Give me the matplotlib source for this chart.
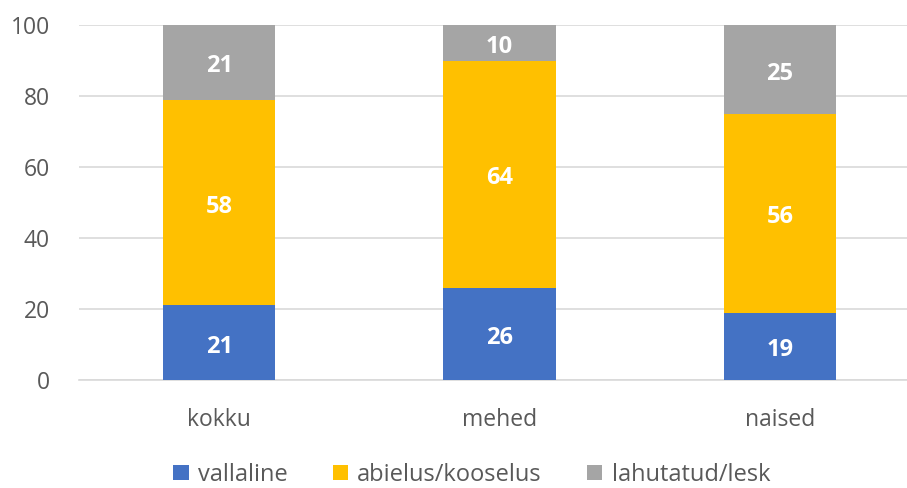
import matplotlib.pyplot as plt
import numpy as np

plt.rcParams['font.family'] = ['Open Sans', 'DejaVu Sans']

categories = ['kokku', 'mehed', 'naised']
series_names = ['vallaline', 'abielus/kooselus', 'lahutatud/lesk']
vallaline = [21, 26, 19]
abielus = [58, 64, 56]
lahutatud = [21, 10, 25]
colors = ['#4472C4', '#FFC000', '#A5A5A5']

fig = plt.figure(figsize=(9.07, 4.88), dpi=100)
ax = fig.add_axes([79 / 907, 108 / 488, 841 / 907, 355 / 488])

x = np.arange(len(categories))
bottom = np.zeros(len(categories))
for name, vals, col in zip(series_names, [vallaline, abielus, lahutatud], colors):
    bars = ax.bar(x, vals, 0.4, bottom=bottom, color=col, label=name, zorder=3)
    for b, v in zip(bars, vals):
        ax.annotate(str(v), (b.get_x() + b.get_width() / 2, b.get_y() + b.get_height() / 2),
                    xytext=(0, -3), textcoords='offset points',
                    ha='center', va='center', color='white', fontsize=17, fontweight='bold', zorder=4)
    bottom += np.array(vals)

ax.set_xlim(-0.5, 2.5)
ax.set_ylim(0, 100)
ax.set_yticks(range(0, 101, 20))
ax.set_xticks(x)
ax.set_xticklabels(categories)
ax.grid(axis='y', color='#D9D9D9', linewidth=1.2, zorder=0)
for s in ['top', 'right', 'left']:
    ax.spines[s].set_visible(False)
ax.spines['bottom'].set_color('#D9D9D9')
ax.spines['bottom'].set_linewidth(1.2)
ax.tick_params(length=0, labelsize=16.5, colors='#595959')
ax.tick_params(axis='x', pad=20)
ax.tick_params(axis='y', pad=21)

fig.legend(loc='center', bbox_to_anchor=(0.52, 0.027), ncol=3, frameon=False,
           fontsize=17, labelcolor='#595959', handlelength=0.65, handleheight=0.65,
           handletextpad=0.4, columnspacing=1.9, borderpad=0.2)

fig.savefig('out.png', dpi=100)
